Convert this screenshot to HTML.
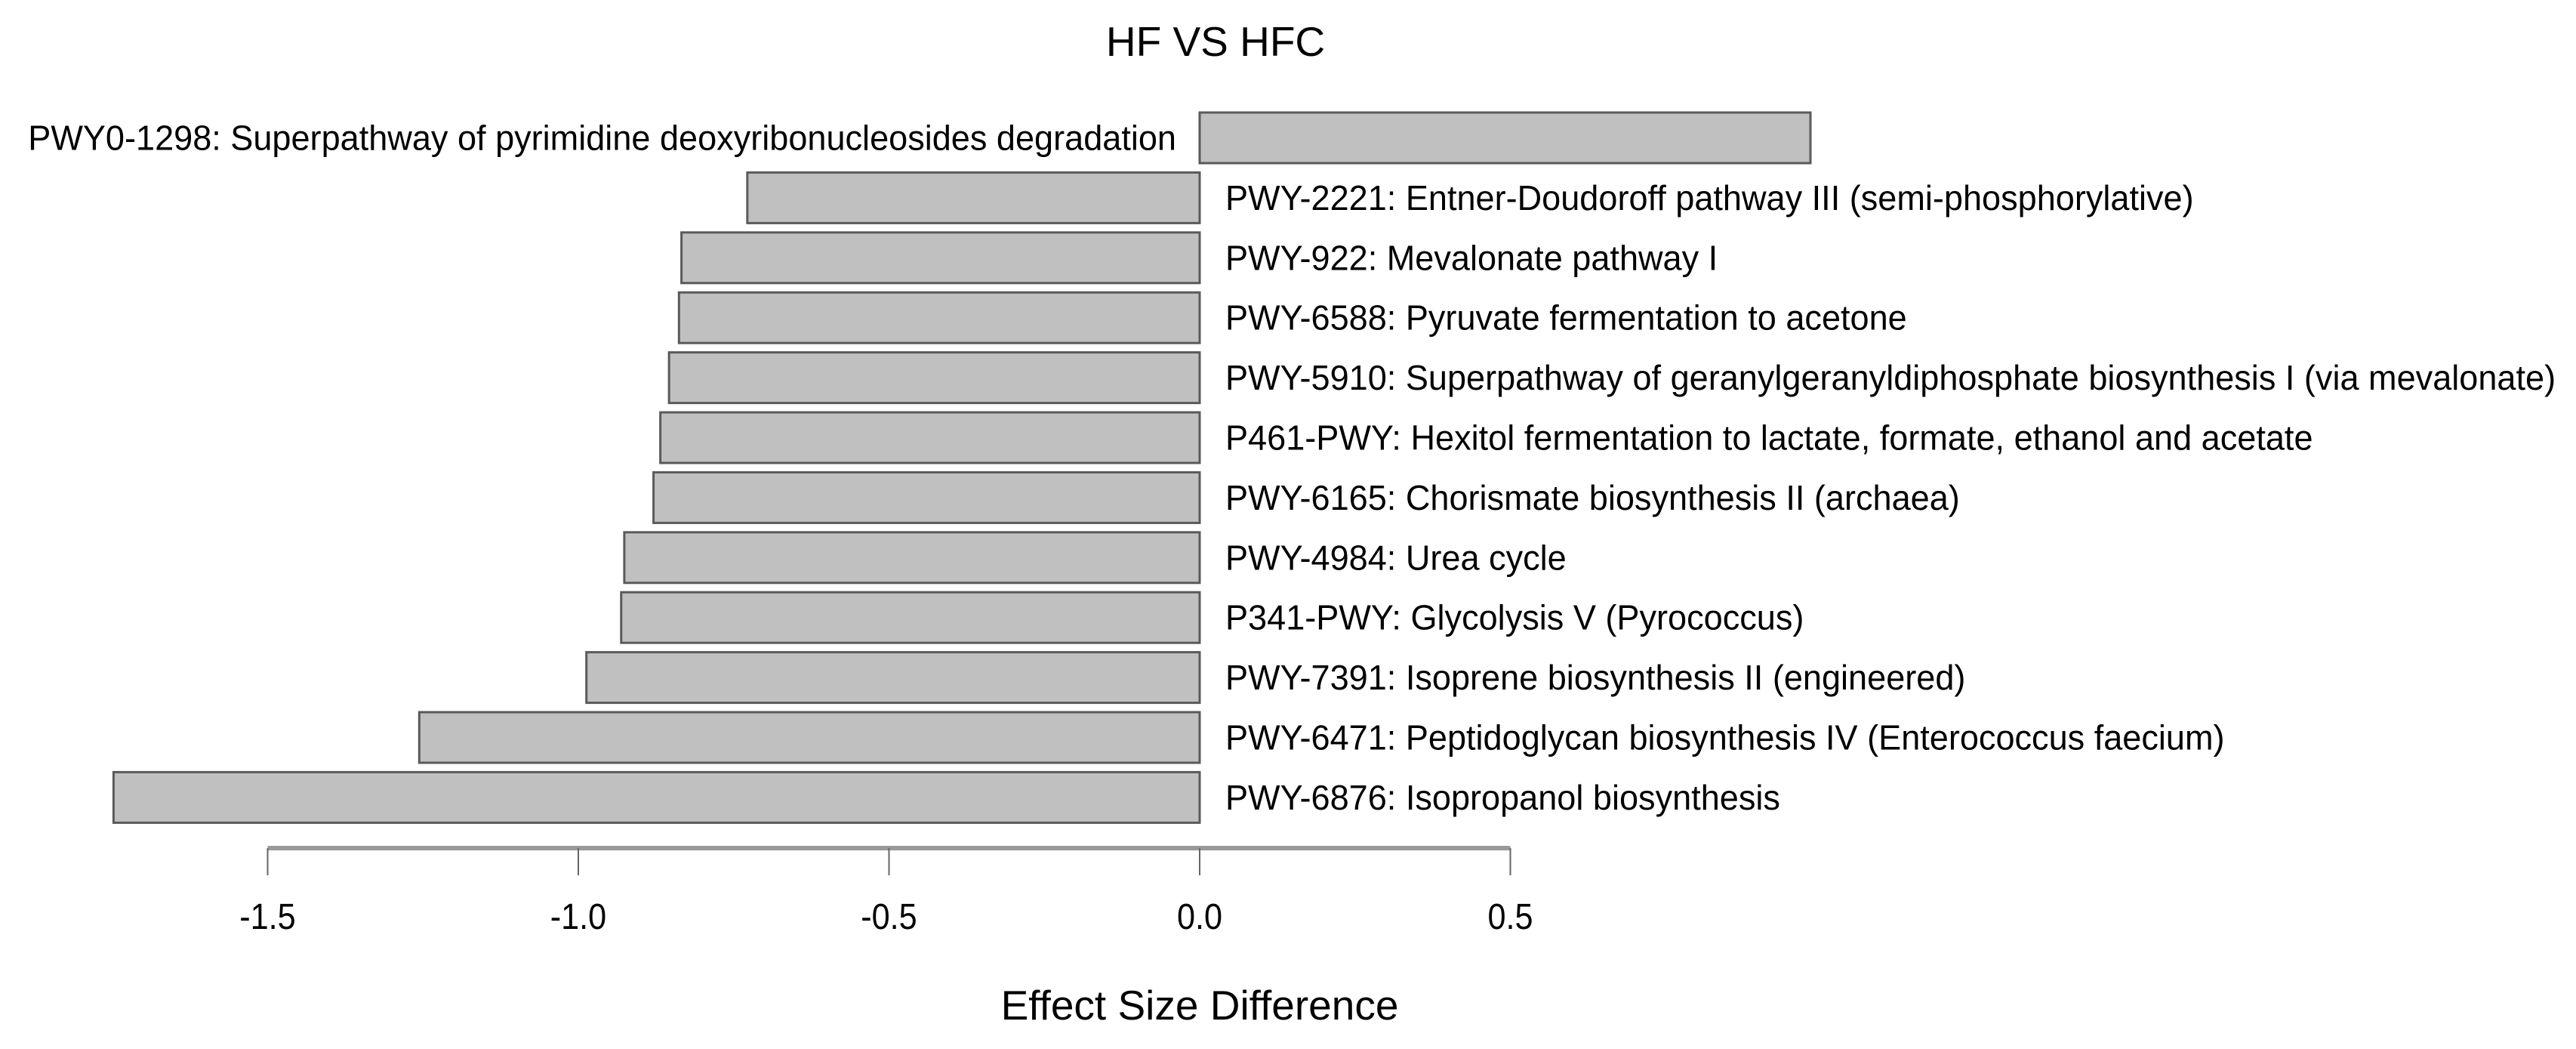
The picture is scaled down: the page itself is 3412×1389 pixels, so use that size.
<!DOCTYPE html>
<html><head><meta charset="utf-8"><style>
html,body{margin:0;padding:0;background:#fff;}
svg{display:block;font-family:"Liberation Sans",Arial,sans-serif;}
</style></head><body>
<svg id="chart" width="3412" height="1389" viewBox="0 0 3412 1389">
<text x="1610" y="74" font-size="55" text-anchor="middle">HF VS HFC</text>
<g id="bars"></g>
<g id="axis"></g>
<text x="1589" y="1350" font-size="55" text-anchor="middle">Effect Size Difference</text>
</svg>
<script>
const categories = [
"PWY0-1298: Superpathway of pyrimidine deoxyribonucleosides degradation",
"PWY-2221: Entner-Doudoroff pathway III (semi-phosphorylative)",
"PWY-922: Mevalonate pathway I",
"PWY-6588: Pyruvate fermentation to acetone",
"PWY-5910: Superpathway of geranylgeranyldiphosphate biosynthesis I (via mevalonate)",
"P461-PWY: Hexitol fermentation to lactate, formate, ethanol and acetate",
"PWY-6165: Chorismate biosynthesis II (archaea)",
"PWY-4984: Urea cycle",
"P341-PWY: Glycolysis V (Pyrococcus)",
"PWY-7391: Isoprene biosynthesis II (engineered)",
"PWY-6471: Peptidoglycan biosynthesis IV (Enterococcus faecium)",
"PWY-6876: Isopropanol biosynthesis"
];
const values = [0.983,-0.728,-0.834,-0.838,-0.854,-0.868,-0.879,-0.926,-0.931,-0.987,-1.256,-1.748];
const ticks = [-1.5,-1.0,-0.5,0.0,0.5];
const tickLabels = ["-1.5","-1.0","-0.5","0.0","0.5"];

const NS="http://www.w3.org/2000/svg";
const x0=1589, pxPerUnit=823;
const xScale=v=>x0+v*pxPerUnit;
const yTop=149, pitch=79.4, barH=67;
const yScale=i=>yTop+i*pitch;
const bars=document.getElementById('bars');
categories.forEach((c,i)=>{
  const v=values[i];
  const r=document.createElementNS(NS,'rect');
  const xa=Math.min(xScale(0),xScale(v)), xb=Math.max(xScale(0),xScale(v));
  r.setAttribute('x',xa);r.setAttribute('y',yScale(i));
  r.setAttribute('width',xb-xa);r.setAttribute('height',barH);
  r.setAttribute('fill','#c0c0c0');r.setAttribute('stroke','#5a5a5a');r.setAttribute('stroke-width','3');
  
  
  bars.appendChild(r);
  const g=document.createElementNS(NS,'g');
  const cy=yScale(i)+barH/2+16;
  const lx = v>=0 ? x0-31 : x0+34;
  g.setAttribute('transform','translate('+lx+','+cy+') scale(0.98,1)');
  const t=document.createElementNS(NS,'text');
  t.setAttribute('font-size','46');
  t.setAttribute('text-anchor', v>=0?'end':'start');
  t.textContent=c;
  
  
  g.appendChild(t);bars.appendChild(g);
});
const axis=document.getElementById('axis');
const ay=1123;
const line=document.createElementNS(NS,'line');
line.setAttribute('x1',xScale(ticks[0]));line.setAttribute('x2',xScale(ticks[ticks.length-1]));
line.setAttribute('y1',ay);line.setAttribute('y2',ay);
line.setAttribute('stroke','#999');line.setAttribute('stroke-width','6');


axis.appendChild(line);
ticks.forEach((t,i)=>{
  const l=document.createElementNS(NS,'line');
  l.setAttribute('x1',xScale(t));l.setAttribute('x2',xScale(t));
  l.setAttribute('y1',ay);l.setAttribute('y2',ay+36);
  l.setAttribute('stroke','#666');l.setAttribute('stroke-width','2');
  
  
  axis.appendChild(l);
  const g=document.createElementNS(NS,'g');
  g.setAttribute('transform','translate('+xScale(t)+',1230) scale(0.9,1)');
  const tx=document.createElementNS(NS,'text');
  tx.setAttribute('font-size','48');tx.setAttribute('text-anchor','middle');
  tx.textContent=tickLabels[i];
  
  
  g.appendChild(tx);axis.appendChild(g);
});
</script>
</body></html>
